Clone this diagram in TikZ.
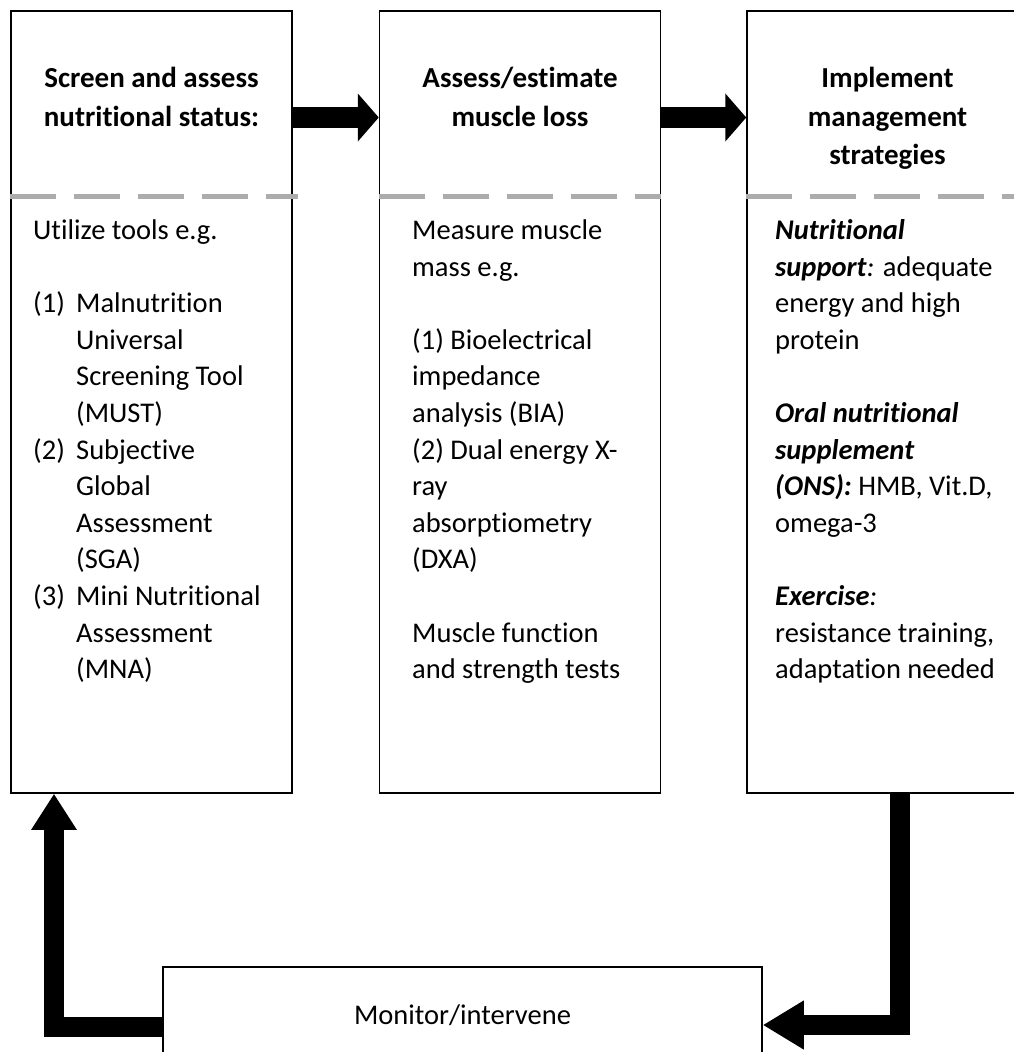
\documentclass[tikz,border=0pt]{standalone}
\usepackage{fontspec}
\setmainfont{Carlito}[Ligatures=NoCommon]
\usetikzlibrary{arrows.meta, positioning}
\definecolor{dashgray}{RGB}{172,172,172}
\newcommand{\listlabel}[1]{\makebox[43pt][l]{#1}}
\newcommand{\listindent}{\hspace*{43pt}}
\newcommand{\lead}[1]{\textbf{\textit{#1}}}
\tikzset{
    stage/.style={rectangle, draw=black, line width=1.5pt, minimum width=281pt, minimum height=782pt, inner sep=0pt},
    heading/.style={anchor=north, align=center, inner sep=0pt, font=\fontsize{29}{38.5}\selectfont\bfseries},
    body/.style={anchor=north west, align=left, inner sep=0pt, font=\fontsize{28.5}{36.6}\selectfont},
    divider/.style={dashgray, line width=5pt, dash pattern=on 46pt off 18pt},
    flow/.style={line width=21pt, -{Triangle[length=21pt, width=47pt]}},
    feedback/.style={line width=20pt, -{Triangle[length=41pt, width=46pt]}}
}
\begin{document}
\begin{tikzpicture}[x=1pt, y=-1pt]
    \useasboundingbox (0,0) rectangle (1014,1052);
    \clip (0,0) rectangle (1014,1052);

    % stages
    \node[stage] (screen) at (151.5,402) {};
    \node[stage] (assess) at (520,402) {};
    \node[stage] (implement) at (887.5,402) {};
    \node[stage, minimum width=599pt, minimum height=96pt, font=\fontsize{28.5}{34}\selectfont] (monitor) at (462.5,1015) {Monitor/intervene};

    % headings
    \node[heading] (screenhead) at (151.5,67) {Screen and assess\\nutritional status:};
    \node[heading] (assesshead) at (520,67) {Assess/estimate\\muscle loss};
    \node[heading] (implementhead) at (887.5,67) {Implement\\management\\strategies};

    % dividers
    \coordinate (cut) at (0,196);
    \draw[divider] (screen.west |- cut) -- ([xshift=5pt]screen.east |- cut);
    \draw[divider] (assess.west |- cut) -- (assess.east |- cut);
    \draw[divider] (implement.west |- cut) -- (implement.east |- cut);

    % details
    \node[body] (screentext) at (33,219.5) {Utilize tools e.g.\\[36.6pt]
        \listlabel{(1)}Malnutrition\\ \listindent Universal\\ \listindent Screening Tool\\ \listindent (MUST)\\
        \listlabel{(2)}Subjective\\ \listindent Global\\ \listindent Assessment\\ \listindent (SGA)\\
        \listlabel{(3)}Mini Nutritional\\ \listindent Assessment\\ \listindent (MNA)};
    \node[body] (assesstext) at (412,219.5) {Measure muscle\\ mass e.g.\\[36.6pt]
        (1) Bioelectrical\\ impedance\\ analysis (BIA)\\ (2) Dual energy X-\\ ray\\ absorptiometry\\ (DXA)\\[36.6pt]
        Muscle function\\ and strength tests};
    \node[body] (implementtext) at (775,219.5) {\lead{Nutritional}\\ \lead{support}\textit{:} adequate\\ energy and high\\ protein\\[36.6pt]
        \lead{Oral nutritional}\\ \lead{supplement}\\ \lead{(ONS):} HMB, Vit.D,\\ omega-3\\[36.6pt]
        \lead{Exercise}\textit{:}\\ resistance training,\\ adaptation needed};

    % arrows
    \coordinate (mid) at (0,117.5);
    \draw[flow] (screen.east |- mid) -- (assess.west |- mid);
    \draw[flow] (assess.east |- mid) -- (implement.west |- mid);
    \coordinate (rturn) at (900,1025);
    \draw[feedback] (implement.south -| rturn) -- (rturn) -- (monitor.east |- rturn);
    \coordinate (lturn) at (54,1027);
    \draw[feedback, -{Triangle[length=36pt, width=43pt]}] (monitor.west |- lturn) -- (lturn) -- (screen.south -| lturn);
\end{tikzpicture}
\end{document}
